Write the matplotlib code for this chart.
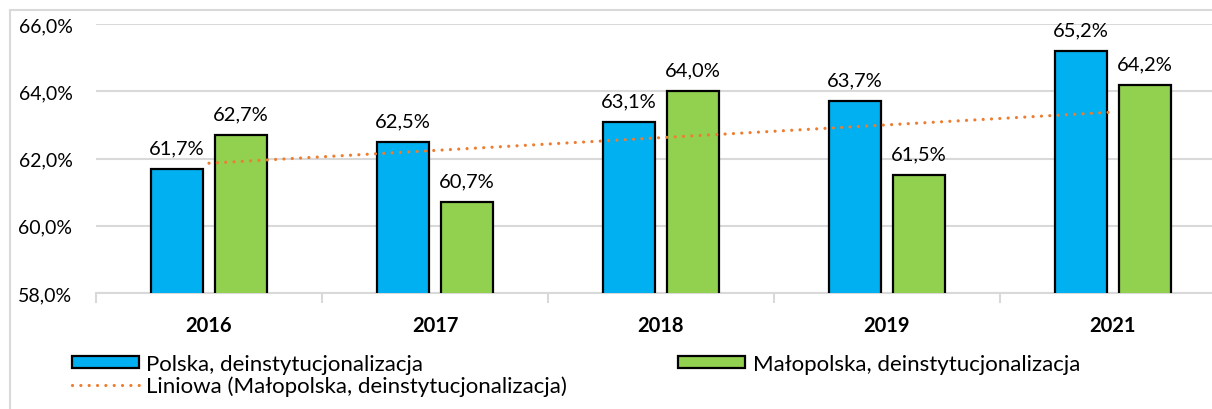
import numpy as np
import matplotlib
matplotlib.use('Agg')
import matplotlib.pyplot as plt
from matplotlib.ticker import FuncFormatter, FixedLocator
from matplotlib.patches import Rectangle

plt.rcParams['font.family'] = ['Lato', 'DejaVu Sans']

years = ['2016', '2017', '2018', '2019', '2021']
polska = [61.7, 62.5, 63.1, 63.7, 65.2]
malopolska = [62.7, 60.7, 64.0, 61.5, 64.2]

blue = '#00B0F0'
green = '#92D050'
orange = '#ED7D31'
grid_c = '#D9D9D9'

fig = plt.figure(figsize=(12.12, 4.10), dpi=100)
# outer chart border
fig.patches.append(Rectangle((10/1212, -0.1), 1.2, 1.1 - 11/410, transform=fig.transFigure,
                             fill=False, ec=grid_c, lw=1.5))
ax = fig.add_axes([96/1212, 1 - 294/410, 1130/1212, 269/410])

x = np.arange(len(years))
w = 0.226
off = 0.1416
b1 = ax.bar(x - off, polska, w, color=blue, ec='black', lw=1.6,
            label='Polska, deinstytucjonalizacja', zorder=3)
b2 = ax.bar(x + off, malopolska, w, color=green, ec='black', lw=1.6,
            label='Małopolska, deinstytucjonalizacja', zorder=3)

# linear trend of the Małopolska series
k, b = np.polyfit(x, malopolska, 1)
tr, = ax.plot(x, k * x + b, color=orange, lw=2.3, linestyle=(0, (0.01, 2.6)),
              dash_capstyle='round', zorder=4,
              label='Liniowa (Małopolska, deinstytucjonalizacja)')

fmt = lambda v: f'{v:.1f}%'.replace('.', ',')
for bars, vals in ((b1, polska), (b2, malopolska)):
    for r, v in zip(bars, vals):
        ax.annotate(fmt(v), (r.get_x() + r.get_width() / 2, v), xytext=(0, 9),
                    textcoords='offset points', ha='center', va='bottom', fontsize=14.5)

ax.set_xlim(-0.5, 4.5)
ax.set_ylim(58, 66)
ax.set_yticks([58, 60, 62, 64, 66])
ax.yaxis.set_major_formatter(FuncFormatter(lambda v, p: fmt(v)))
ax.tick_params(axis='y', length=0, labelsize=14, pad=17)
ax.grid(axis='y', color=grid_c, lw=1.5, zorder=0)
ax.set_axisbelow(True)

ax.set_xticks(x)
ax.set_xticklabels(years, fontsize=14.5, fontweight='bold')
ax.xaxis.set_minor_locator(FixedLocator(np.arange(-0.5, 5, 1)))
ax.tick_params(axis='x', which='major', length=0, pad=16)
ax.tick_params(axis='x', which='minor', length=7, color=grid_c, width=1.5)

for s in ['top', 'right', 'left']:
    ax.spines[s].set_visible(False)
ax.spines['bottom'].set_color(grid_c)
ax.spines['bottom'].set_linewidth(1.5)

fig.legend([b1, tr, b2],
           ['Polska, deinstytucjonalizacja', 'Liniowa (Małopolska, deinstytucjonalizacja)',
            'Małopolska, deinstytucjonalizacja'],
           ncol=2, loc='upper left', bbox_to_anchor=(72/1212, 1 - 355/410),
           frameon=False, fontsize=16, handlelength=3.0, handleheight=0.5,
           handletextpad=0.35, columnspacing=5.0, labelspacing=0.08,
           borderpad=0, borderaxespad=0)

fig.savefig('out.png', dpi=100)
